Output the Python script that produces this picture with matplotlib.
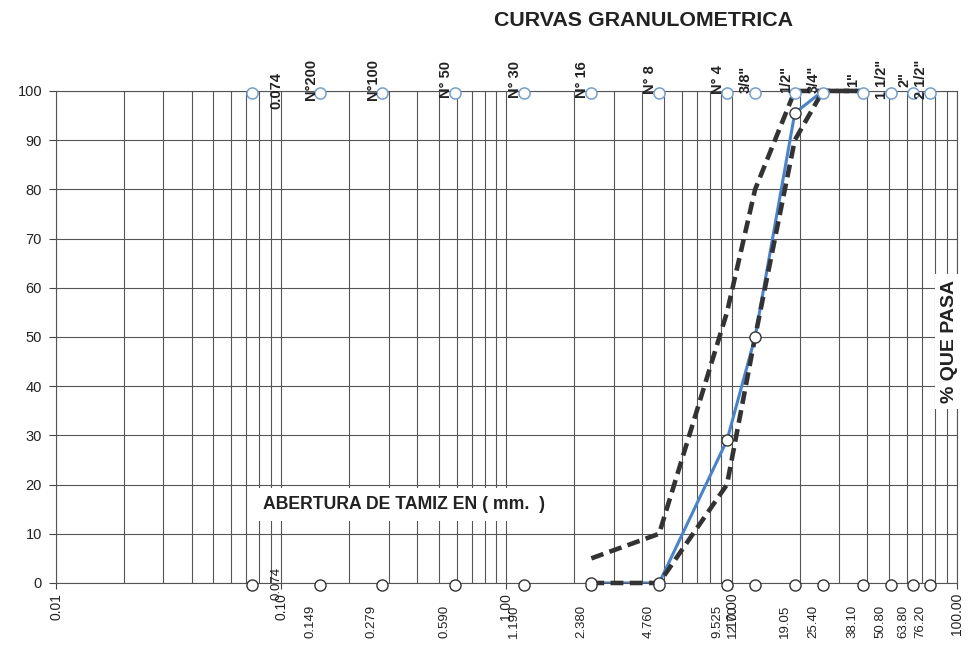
import matplotlib
matplotlib.use('Agg')
import matplotlib.pyplot as plt
import matplotlib.transforms as mtransforms
from matplotlib.ticker import LogLocator, NullFormatter

# Tamices: abertura (mm), etiqueta inferior y nombre superior
tamiz_mm = [0.074, 0.149, 0.279, 0.590, 1.190, 2.380, 4.760, 9.525, 12.70,
            19.05, 25.40, 38.10, 50.80, 63.80, 76.20]
tamiz_txt = ["0.074", "0.149", "0.279", "0.590", "1.190", "2.380", "4.760", "9.525",
             "12.70", "19.05", "25.40", "38.10", "50.80", "63.80", "76.20"]
tamiz_nombre = ["0.074", "N°200", "N°100", "N° 50", "N° 30", "N° 16", "N° 8", "N° 4",
                "3/8\"", "1/2\"", "3/4\"", "1\"", "1 1/2\"", "2\"", "2 1/2\""]

# marcas guía arriba (100 %) y abajo (0 %)
guia_sup = [99.5, 99.5, 99.5, 99.5, 99.5, 99.5, 99.5, 99.5, 99.5, 99.5, 99.5,
            99.5, 99.5, 99.5, 99.5]
guia_inf = [-0.5, -0.5, -0.5, -0.5, -0.5, -0.5, -0.5, -0.5, -0.5, -0.5, -0.5,
            -0.5, -0.5, -0.5, -0.5]

# Curva de la muestra
muestra_mm = [2.380, 4.760, 9.525, 12.70, 19.05, 25.40]
muestra_pasa = [0, 0, 29, 50, 95.5, 100]

# Limites del huso
huso_mm = [2.380, 4.760, 9.525, 12.70, 19.05, 25.40, 38.10]
huso_sup = [5, 10, 55, 80, 100, 100, 100]
huso_inf = [0, 0, 20, 50, 90, 100, 100]

# Eje x principal
ejes_x = [0.01, 0.1, 1, 10, 100]
ejes_x_txt = ["0.01", "0.10", "1.00", "10.00", "100.00"]

plt.rcParams['font.family'] = ['Liberation Sans', 'DejaVu Sans']

fig = plt.figure(figsize=(9.69, 6.51), dpi=100)
ax = fig.add_axes([0.0578, 0.1045, 0.9298, 0.7558])

ax.set_xscale('log')
ax.set_xlim(0.01, 100)
ax.set_ylim(0, 100)

ax.set_xticks(ejes_x)
ax.set_xticklabels(ejes_x_txt, rotation=90, fontsize=10, color='#222222')
ax.xaxis.set_minor_locator(LogLocator(base=10, subs=range(2, 10)))
ax.xaxis.set_minor_formatter(NullFormatter())
ax.tick_params(axis='x', which='minor', length=0)
ax.tick_params(axis='x', which='major', length=4, pad=3, color='#444444')
ax.set_yticks(range(0, 101, 10))
ax.tick_params(axis='y', length=5, pad=5, labelsize=10.5, color='#444444',
               labelcolor='#222222')

ax.grid(True, which='both', color='#555555', lw=0.8)
for s in ax.spines.values():
    s.set_color('#555555')
    s.set_linewidth(0.8)

# curvas
ax.plot(muestra_mm, muestra_pasa, color='#4583d6', lw=2.2, zorder=3)
estilo = dict(color='#333333', lw=3.3, ls=(0, (2.8, 1.4)), zorder=4, clip_on=False)
ax.plot(huso_mm, huso_sup, **estilo)
ax.plot(huso_mm, huso_inf, **estilo)

ax.plot(tamiz_mm, guia_sup, ls='none', marker='o', ms=8, mfc='white',
        mec='#6f9fd8', mew=1.1, zorder=6, clip_on=False)
ax.plot(tamiz_mm, guia_inf, ls='none', marker='o', ms=8, mfc='white',
        mec='#333333', mew=1.0, zorder=6, clip_on=False)
ax.plot(muestra_mm[:-1], muestra_pasa[:-1], ls='none', marker='o', ms=8, mfc='white',
        mec='#333333', mew=1.0, zorder=6)

# etiquetas de tamices
base = mtransforms.blended_transform_factory(ax.transData, ax.transAxes)
desp_inf = {"0.074": 25, "12.70": -22}
desp_sup = {"0.074": 25}
for x, t, n in zip(tamiz_mm, tamiz_txt, tamiz_nombre):
    dx = desp_inf.get(t, -10)
    tr = mtransforms.offset_copy(base, fig=fig, x=dx, y=0, units='dots')
    if t == "0.074":
        ax.text(x, 0.0, t, transform=tr, rotation=90, ha='center', va='center',
                fontsize=9.5, color='#222222', zorder=7)
    else:
        ax.text(x, -0.112, t, transform=tr, rotation=90, ha='center', va='bottom',
                fontsize=9.5, color='#222222')
    dx = desp_sup.get(t, -9)
    tr = mtransforms.offset_copy(base, fig=fig, x=dx, y=0, units='dots')
    yy = 1.0 if t == "0.074" else 1.024
    ax.text(x, yy, n, transform=tr, rotation=90, ha='center', va='center',
            fontsize=10.5, fontweight='bold', color='#222222', zorder=7)

ax.text(0.386, 0.160, "ABERTURA DE TAMIZ EN ( mm.  )", transform=ax.transAxes,
        ha='center', va='center', fontsize=12.7, fontweight='bold', color='#222222',
        bbox=dict(boxstyle='square,pad=0.45', fc='white', ec='none'), zorder=5)

ax.text(0.992, 0.49, "% QUE PASA", transform=ax.transAxes, rotation=90,
        ha='center', va='center', fontsize=14, fontweight='bold', color='#222222',
        bbox=dict(boxstyle='square,pad=0.3', fc='white', ec='none'), zorder=5,
        clip_on=False)

fig.text(0.664, 0.969, "CURVAS GRANULOMETRICA", ha='center', va='center',
         fontsize=15.4, fontweight='bold', color='#222222')

fig.savefig('out.png', dpi=100)
